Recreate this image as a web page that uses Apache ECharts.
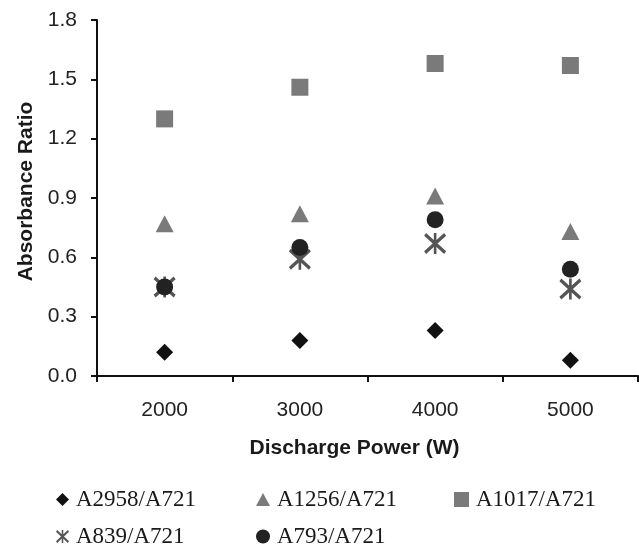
<!DOCTYPE html>
<html>
<head>
<meta charset="utf-8">
<script src="https://cdn.jsdelivr.net/npm/echarts@6/dist/echarts.min.js"></script>
<style>
html,body{margin:0;padding:0;background:#fff;}
#chart{width:639px;height:545px;}
</style>
</head>
<body>
<div id="chart"></div>
<script>
var categories = ['2000', '3000', '4000', '5000'];
var a2958 = [0.12, 0.18, 0.23, 0.08];
var a1256 = [0.77, 0.82, 0.91, 0.73];
var a1017 = [1.30, 1.46, 1.58, 1.57];
var a839 = [0.45, 0.59, 0.67, 0.44];
var a793 = [0.45, 0.65, 0.79, 0.54];
var seriesNames = ['A2958/A721', 'A1256/A721', 'A1017/A721', 'A839/A721', 'A793/A721'];
var yTickLabels = ['0.0', '0.3', '0.6', '0.9', '1.2', '1.5', '1.8'];

var asterisk = 'path://M44,0L56,0L56,100L44,100Z M0,13L9,0L100,87L91,100Z M91,0L100,13L9,100L0,87Z';

var chart = echarts.init(document.getElementById('chart'), null, {renderer: 'canvas'});

var axisFont = "'Liberation Sans', Arial, sans-serif";
var legendFont = "'Liberation Serif', 'Times New Roman', serif";

function mkLegend(name, icon, left, top, w, h) {
  return {
    data: [{name: name, icon: icon}],
    left: left, top: top, padding: 0,
    itemWidth: w, itemHeight: h, itemGap: 0,
    selectedMode: false,
    textStyle: {fontFamily: legendFont, fontSize: 23, color: '#1a1a1a', lineHeight: 23, padding: [0,0,0,2]}
  };
}

var option = {
  backgroundColor: '#fff',
  animation: false,
  grid: {left: 97, right: 1, top: 20, bottom: 169, containLabel: false},
  legend: [
    mkLegend(seriesNames[0], 'diamond', 56, 488, 13, 13),
    mkLegend(seriesNames[1], 'triangle', 256, 488, 14, 13),
    mkLegend(seriesNames[2], 'rect', 454, 488, 15, 15),
    mkLegend(seriesNames[3], asterisk, 56, 525, 13, 13),
    mkLegend(seriesNames[4], 'circle', 256, 525, 14, 14)
  ],
  xAxis: {
    type: 'category',
    data: categories,
    boundaryGap: true,
    name: 'Discharge Power (W)',
    nameLocation: 'middle',
    nameGap: 62,
    nameTextStyle: {fontFamily: axisFont, fontSize: 21, fontWeight: 'bold', color: '#1a1a1a', padding: [0, 26, 0, 0]},
    axisLine: {show: true, lineStyle: {color: '#111', width: 2}},
    axisTick: {show: true, length: 6, lineStyle: {color: '#111', width: 2}},
    axisLabel: {fontFamily: axisFont, fontSize: 21, color: '#222', margin: 24},
    splitLine: {show: false}
  },
  yAxis: {
    type: 'value',
    min: 0, max: 1.8, interval: 0.3,
    name: 'Absorbance Ratio',
    nameLocation: 'middle',
    nameGap: 58,
    nameTextStyle: {fontFamily: axisFont, fontSize: 21, fontWeight: 'bold', color: '#1a1a1a', padding: [0, 0, 0, 13]},
    axisLine: {show: true, lineStyle: {color: '#111', width: 2}},
    axisTick: {show: true, length: 6, lineStyle: {color: '#111', width: 2}},
    axisLabel: {fontFamily: axisFont, fontSize: 21, color: '#222', margin: 20,
      formatter: function (v) { return yTickLabels[Math.round(v / 0.3)]; }},
    splitLine: {show: false}
  },
  series: [
    {name: seriesNames[0], type: 'scatter', data: a2958, symbol: 'diamond', symbolSize: [17, 17], itemStyle: {color: '#111', opacity: 1}},
    {name: seriesNames[1], type: 'scatter', data: a1256, symbol: 'triangle', symbolSize: [18, 17], itemStyle: {color: '#7a7a7a', opacity: 1}},
    {name: seriesNames[2], type: 'scatter', data: a1017, symbol: 'rect', symbolSize: [17, 17], itemStyle: {color: '#7a7a7a', opacity: 1}},
    {name: seriesNames[3], type: 'scatter', data: a839, symbol: asterisk, symbolSize: [22, 21], itemStyle: {color: '#555', opacity: 1}},
    {name: seriesNames[4], type: 'scatter', data: a793, symbol: 'circle', symbolSize: 17, itemStyle: {color: '#222', opacity: 1}}
  ]
};
chart.setOption(option);
</script>
</body>
</html>
